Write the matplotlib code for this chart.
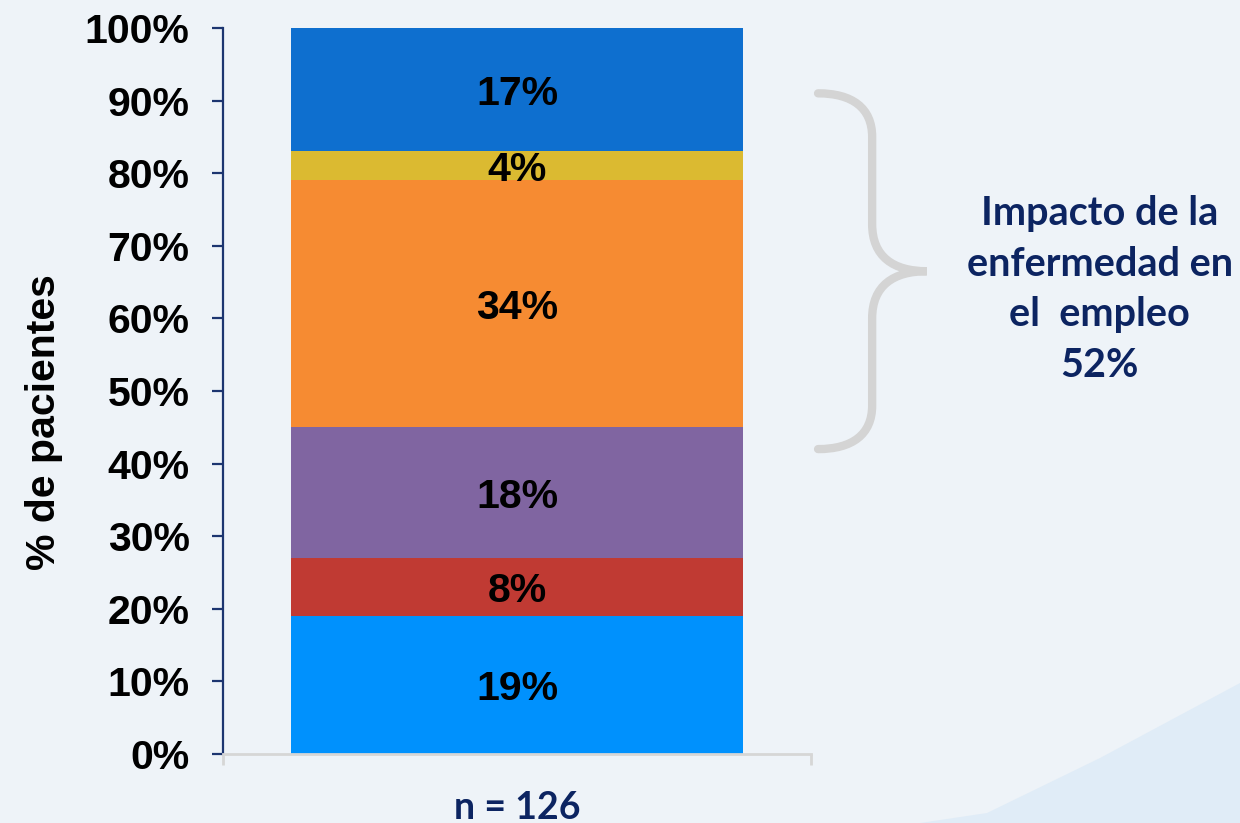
import matplotlib.pyplot as plt
from matplotlib.path import Path
from matplotlib.patches import PathPatch, Polygon
import matplotlib.transforms as mtransforms

# Datos: distribución de pacientes (n = 126), de abajo hacia arriba
valores = [19, 8, 18, 34, 4, 17]
colores = ['#0091fd', '#c03a33', '#8065a1', '#f68b32', '#dbba31', '#0e6fcf']
etiquetas_y = ['0%', '10%', '20%', '30%', '40%', '50%', '60%', '70%', '80%', '90%', '100%']
texto_muestra = 'n = 126'
texto_llave = 'Impacto de la\nenfermedad en\nel  empleo\n52%'

azul_oscuro = '#0c2461'
fuente_arial = 'Liberation Sans'
fuente_calibri = 'Lato'
tam = 29.5

fig = plt.figure(figsize=(12.4, 8.23), dpi=100, facecolor='#eef3f8')

# Ola decorativa en la esquina inferior derecha
ola = Polygon([(920 / 1240, 0), (987 / 1240, 10 / 823), (1100 / 1240, 65 / 823),
               (1, 140 / 823), (1, 0)], closed=True, transform=fig.transFigure,
              facecolor='#e0ecf7', edgecolor='none', zorder=0)
fig.patches.append(ola)

ax = fig.add_axes([223 / 1240, 69 / 823, 588 / 1240, 726 / 823])
ax.set_facecolor('none')

# Barra apilada, con las etiquetas un poco bajadas
trans_txt = mtransforms.offset_copy(ax.transData, fig=fig, x=0, y=-4, units='dots')
base = 0
for v, c in zip(valores, colores):
    ax.bar(0.5, v, width=0.77, bottom=base, color=c, edgecolor='none', zorder=2)
    ax.text(0.5, base + v / 2, f'{v}%', ha='center', va='center', fontsize=tam,
            fontweight='bold', family=fuente_arial, color='black', zorder=3,
            transform=trans_txt)
    base += v

ax.set_xlim(0, 1)
ax.set_ylim(0, 100)

# Ejes
ax.spines['top'].set_visible(False)
ax.spines['right'].set_visible(False)
ax.spines['left'].set_color('#1c3570')
ax.spines['left'].set_linewidth(1.6)
ax.spines['bottom'].set_color('#d6d6d6')
ax.spines['bottom'].set_linewidth(2)

ax.set_yticks(range(0, 101, 10))
ax.set_yticklabels(etiquetas_y)
ax.tick_params(axis='y', direction='out', length=8, width=1.6, color='#1c3570', pad=16)
for t in ax.get_yticklabels():
    t.set_fontsize(tam)
    t.set_fontweight('bold')
    t.set_family(fuente_arial)

ax.set_xticks([0, 1])
ax.set_xticklabels(['', ''])
ax.tick_params(axis='x', direction='out', length=8, width=2, color='#d6d6d6')

ax.set_ylabel('% de pacientes', fontsize=tam, fontweight='bold', family=fuente_arial)
ax.yaxis.set_label_coords(-0.272, 0.457)

ax.text(0.5, -0.074, texto_muestra, transform=ax.transAxes, ha='center', va='center',
        fontsize=27, fontweight='bold', family=fuente_calibri, color=azul_oscuro)

# Llave a la derecha de la barra
trans = mtransforms.blended_transform_factory(ax.transAxes, ax.transData)
verts = [(1.012, 91), (1.07, 91), (1.104, 89), (1.104, 85),
         (1.104, 73),
         (1.104, 68.5), (1.14, 66.5), (1.197, 66.5),
         (1.14, 66.5), (1.104, 64.5), (1.104, 60),
         (1.104, 48),
         (1.104, 44), (1.07, 42), (1.012, 42)]
codes = [Path.MOVETO, Path.CURVE4, Path.CURVE4, Path.CURVE4,
         Path.LINETO,
         Path.CURVE4, Path.CURVE4, Path.CURVE4,
         Path.CURVE4, Path.CURVE4, Path.CURVE4,
         Path.LINETO,
         Path.CURVE4, Path.CURVE4, Path.CURVE4]
llave = PathPatch(Path(verts, codes), transform=trans, facecolor='none',
                  edgecolor='#d4d4d4', linewidth=6, capstyle='round', clip_on=False)
ax.add_patch(llave)

ax.text(1.491, 64, texto_llave, transform=trans, ha='center', va='center',
        fontsize=28.5, fontweight='bold', family=fuente_calibri, color=azul_oscuro,
        linespacing=1.45, multialignment='center')

fig.savefig('out.png', dpi=100, facecolor=fig.get_facecolor())
